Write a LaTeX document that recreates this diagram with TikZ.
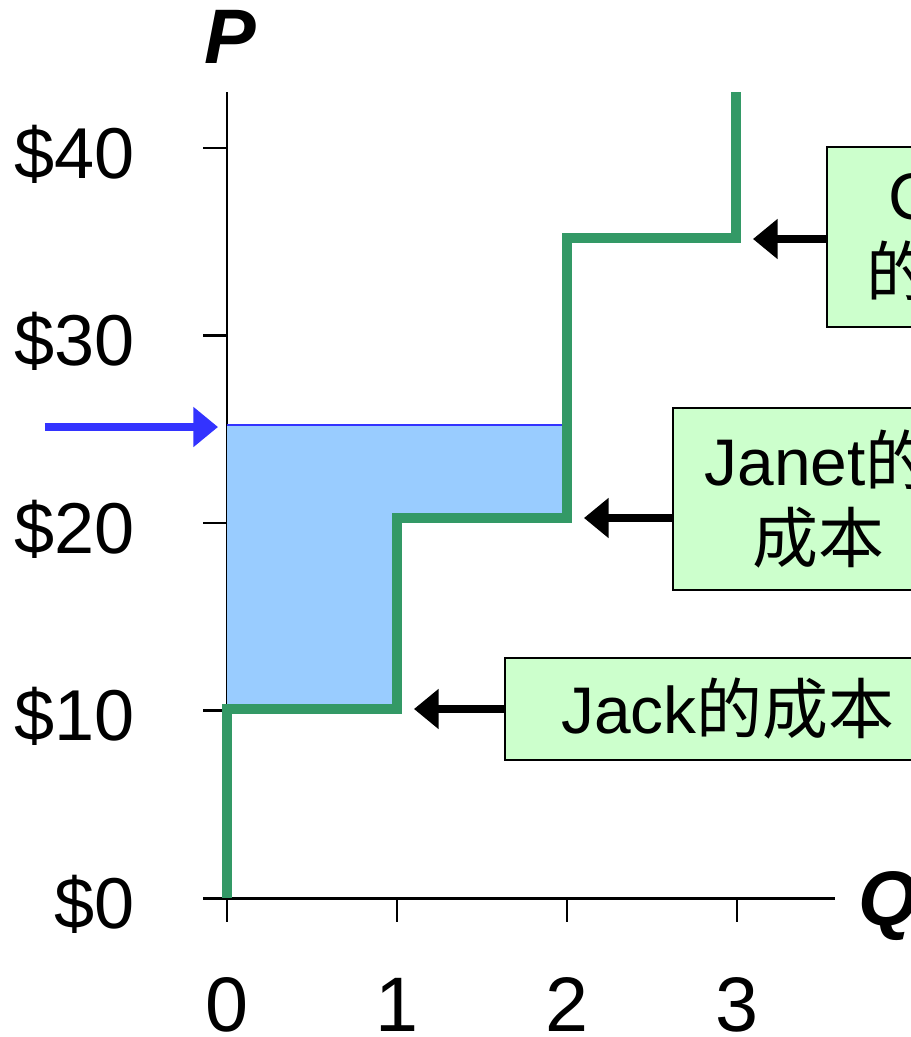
\documentclass[tikz,border=0pt]{standalone}
\usepackage{fontspec}
\setmainfont{Liberation Sans}
\newfontfamily\cjk{Noto Sans CJK SC}
\usetikzlibrary{arrows.meta}
\definecolor{stepgreen}{HTML}{339966}
\definecolor{shadeblue}{HTML}{99CCFF}
\definecolor{markblue}{HTML}{3333FF}
\definecolor{boxgreen}{HTML}{CCFFCC}
\newcommand{\ticksize}{\fontsize{41}{49}\selectfont}
\newcommand{\qsize}{\fontsize{44}{52}\selectfont}
\newcommand{\boxsize}{\fontsize{37.5}{44}\selectfont}
\newcommand{\axsize}{\fontsize{44}{52}\selectfont\bfseries\itshape}

\tikzset{every picture/.style={line width=0.75pt}}

\begin{document}
\begin{tikzpicture}[scale=0.2]
\tikzstyle{every node}+=[inner sep=0pt]
\tikzstyle{costbox}=[draw=black, line width=1.1pt, fill=boxgreen, align=center, font=\boxsize]
\tikzstyle{pointer}=[-{Triangle[length=14pt,width=22pt]}, line width=4.3pt]
\useasboundingbox (0,0) rectangle (91.1,-103.7);
% axes
\draw [black, line width=1.7pt] (22.7,-9.2) -- (22.7,-89.8);
\draw [black, line width=1.7pt] (20.3,-89.8) -- (83.5,-89.8);
\foreach \v in {0,10,20,30,40} {
  \draw [black, line width=1.5pt] (20.3,{-89.8+1.875*\v}) -- (22.7,{-89.8+1.875*\v});
  \node (p\v) [anchor=base east, font=\ticksize] at (13.5,{-92.8+1.875*\v}) {\$\v};
}
\foreach \q in {0,...,3} {
  \draw [black, line width=1.5pt] ({22.7+17*\q},-89.8) -- ({22.7+17*\q},-92.2);
  \node (q\q) [anchor=base, font=\qsize] at ({22.7+17*\q},-103.1) {\q};
}
\node (plabel) [anchor=base, font=\axsize] at (23.0,-6.3) {P};
\node (qlabel) [anchor=base west, font=\axsize] at (85.8,-92.5) {Q};
% surplus area
\fill [shadeblue] (22.7,-42.5) -- (56.7,-42.5) -- (56.7,-51.8) -- (39.7,-51.8)
  -- (39.7,-70.9) -- (22.7,-70.9) -- cycle;
\draw [markblue, line width=1.1pt] (22.7,-42.5) -- (56.7,-42.5);
% supply steps
\draw [stepgreen, line width=5.7pt] (22.7,-89.8) -- (22.7,-70.9) -- (39.7,-70.9)
  -- (39.7,-51.8) -- (56.7,-51.8) -- (56.7,-23.8) -- (73.6,-23.8) -- (73.6,-9.2);
% price arrow
\coordinate (pstart) at (4.5,-42.7);
\coordinate (ptip) at (21.8,-42.7);
\draw [pointer, markblue] (pstart) -- (ptip);
% cost boxes
\node (jack) [costbox, minimum width=253.8pt, minimum height=58pt] at (72.8,-70.9) {Jack{\cjk 的成本}};
\node (janet) [costbox, minimum width=165pt, minimum height=103.6pt] at (81.8,-49.9) {Janet{\cjk 的}\\{\cjk 成本}};
\node (chris) [costbox, minimum width=157pt, minimum height=102.4pt] at (96.5,-23.7) {Chris\\{\cjk 的成本}};
\coordinate (jacktip) at (41.4,-70.9);
\coordinate (janettip) at (58.4,-51.8);
\coordinate (christip) at (75.3,-23.9);
\draw [pointer, black] (jack.west |- jacktip) -- (jacktip);
\draw [pointer, black] (janet.west |- janettip) -- (janettip);
\draw [pointer, black] (chris.west |- christip) -- (christip);
\end{tikzpicture}
\end{document}
